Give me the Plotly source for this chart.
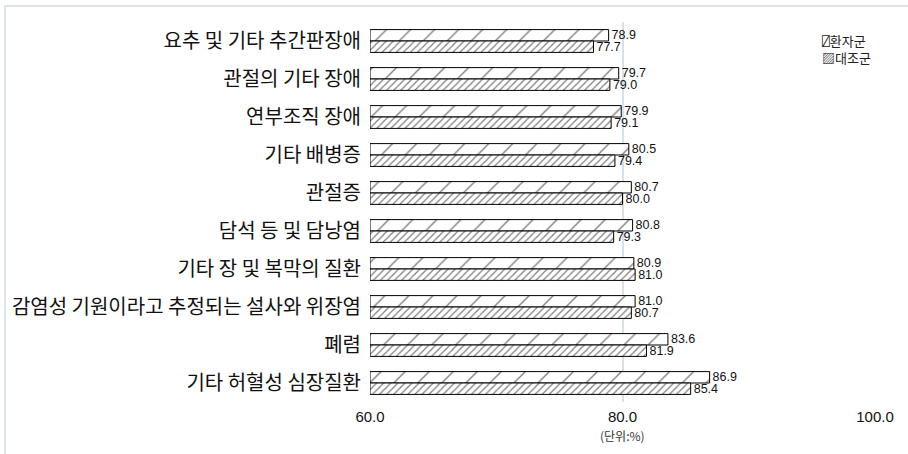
import plotly.graph_objects as go

categories = ["요추 및 기타 추간판장애", "관절의 기타 장애", "연부조직 장애", "기타 배병증", "관절증",
              "담석 등 및 담낭염", "기타 장 및 복막의 질환", "감염성 기원이라고 추정되는 설사와 위장염",
              "폐렴", "기타 허혈성 심장질환"]
patient = [78.9, 79.7, 79.9, 80.5, 80.7, 80.8, 80.9, 81.0, 83.6, 86.9]
control = [77.7, 79.0, 79.1, 79.4, 80.0, 79.3, 81.0, 80.7, 81.9, 85.4]
series_names = ["환자군", "대조군"]
legend_marks = ["⍁", "▨"]
legend_mark_fonts = ["DejaVu Sans Mono", "Noto Sans CJK KR"]
x_ticks = [60, 80, 100]
x_tick_labels = ["60.0", "80.0", "100.0"]
unit_label = "(단위:%)"

W, H = 908, 454
L, R, T, B = 370, 33, 22, 52
pw, ph = W - L - R, H - T - B

def px_x(p):
    return (p - L) / pw

def px_y(p):
    return (H - B - p) / ph

fig = go.Figure()
fig.add_trace(go.Bar(
    y=categories, x=[v - 60 for v in patient], base=60, orientation="h", name=series_names[0],
    marker=dict(color="white", line=dict(color="black", width=1),
                pattern=dict(shape="/", fgcolor="black", bgcolor="white", size=17, solidity=0.08)),
    text=[f"{v:.1f}" for v in patient], textposition="outside", cliponaxis=False,
    textfont=dict(family="Liberation Sans, Arial", size=12.5, color="#111"),
    showlegend=False,
))
fig.add_trace(go.Bar(
    y=categories, x=[v - 60 for v in control], base=60, orientation="h", name=series_names[1],
    marker=dict(color="white", line=dict(color="black", width=1),
                pattern=dict(shape="/", fgcolor="black", bgcolor="white", size=5, solidity=0.25)),
    text=[f"{v:.1f}" for v in control], textposition="outside", cliponaxis=False,
    textfont=dict(family="Liberation Sans, Arial", size=12.5, color="#111"),
    showlegend=False,
))

fig.update_layout(
    width=W, height=H, margin=dict(l=L, r=R, t=T, b=B),
    paper_bgcolor="white", plot_bgcolor="white",
    barmode="group", bargap=0.4, bargroupgap=0,
    font=dict(family="Noto Sans CJK KR, Liberation Sans", color="black"),
    uniformtext=dict(mode="show", minsize=12.5),
)
fig.update_xaxes(range=[60, 100], tickvals=x_ticks, ticktext=x_tick_labels,
                 showgrid=True, gridcolor="#d6e2e8", gridwidth=1.5, zeroline=False,
                 showline=False, ticks="", ticklabelstandoff=4,
                 tickfont=dict(family="Liberation Sans, Arial", size=15, color="#111"))
fig.update_yaxes(categoryorder="array", categoryarray=categories, autorange="reversed",
                 showgrid=False, zeroline=False, showline=False, ticks="", ticklabelstandoff=8,
                 tickfont=dict(family="Noto Sans CJK KR", size=20, color="#111"))

fig.add_annotation(x=80, y=px_y(425), xref="x", yref="paper", yanchor="top", text=unit_label,
                   showarrow=False, font=dict(family="Noto Sans CJK KR", size=12, color="#333"))

legend_text = "<br>".join(
    f"<span style='font-family:{f}'>{m}</span>{n}"
    for m, f, n in zip(legend_marks, legend_mark_fonts, series_names))
fig.add_annotation(x=px_x(820), y=px_y(29), xref="paper", yref="paper",
                   xanchor="left", yanchor="top", align="left", showarrow=False,
                   text=legend_text,
                   font=dict(family="Noto Sans CJK KR", size=13, color="#222"))

fig.add_shape(type="rect", xref="paper", yref="paper",
              x0=px_x(5), x1=px_x(930), y0=px_y(480), y1=px_y(6),
              line=dict(color="#dce5e8", width=2), fillcolor="rgba(0,0,0,0)", layer="below")

fig.write_html("out.html")
